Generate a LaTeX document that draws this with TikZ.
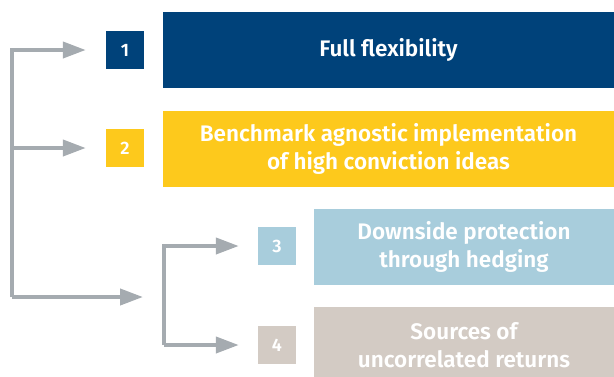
\documentclass[tikz,border=0pt]{standalone}
\usepackage{fontspec}
\setmainfont{Fira Sans}[BoldFont={* SemiBold}]
\usepackage{xcolor}
\usetikzlibrary{arrows.meta}

\definecolor{navy}{HTML}{00427A}
\definecolor{sun}{HTML}{FDC91C}
\definecolor{sky}{HTML}{A8CDDC}
\definecolor{stone}{HTML}{D3CBC4}
\definecolor{steel}{HTML}{A5ABB0}

\tikzset{
	idea/.style={rectangle,draw=none,minimum height=76pt,text=white,align=center,
		font=\bfseries\fontsize{22.5}{28}\selectfont,inner sep=0pt},
	numbox/.style={rectangle,draw=none,minimum width=38pt,minimum height=38pt,text=white,
		font=\bfseries\fontsize{18}{18}\selectfont,inner sep=0pt},
	flow/.style={draw=steel,line width=4pt,line join=miter,-{Triangle[length=23pt,width=16pt]}}
}

\begin{document}
\begin{tikzpicture}[x=1pt,y=-1pt]
		\useasboundingbox (0,0) rectangle (614,376);
		\clip (0,0) rectangle (614,376);

		\node[idea,fill=navy,minimum width=451pt] (F) at (388.5,50) {Full flexibility};
		\node[idea,fill=sun,minimum width=451pt] (B) at (388.5,149) {Benchmark agnostic implementation\\of high conviction ideas};
		\node[idea,fill=sky,minimum width=300pt] (D) at (464,247) {Downside protection\\through hedging};
		\node[idea,fill=stone,minimum width=300pt] (S) at (464,345) {Sources of\\uncorrelated returns};

		\node[numbox,fill=navy] (n1) at (125,50) {1};
		\node[numbox,fill=sun] (n2) at (125,148) {2};
		\node[numbox,fill=sky] (n3) at (277,246) {3};
		\node[numbox,fill=stone] (n4) at (277,345) {4};

		\coordinate (trunk) at (12,297);
		\coordinate (fork) at (164,297);

		\draw[flow] (trunk) |- ([xshift=-20pt]n1.west);
		\draw[flow] (trunk |- n2) -- ([xshift=-20pt]n2.west);
		\draw[flow] (trunk) -- ([xshift=-21pt]fork);
		\draw[flow] (fork |- n4) |- ([xshift=-19pt]n3.west);
		\draw[flow] (fork |- n4) -- ([xshift=-19pt]n4.west);
	\end{tikzpicture}
\end{document}
